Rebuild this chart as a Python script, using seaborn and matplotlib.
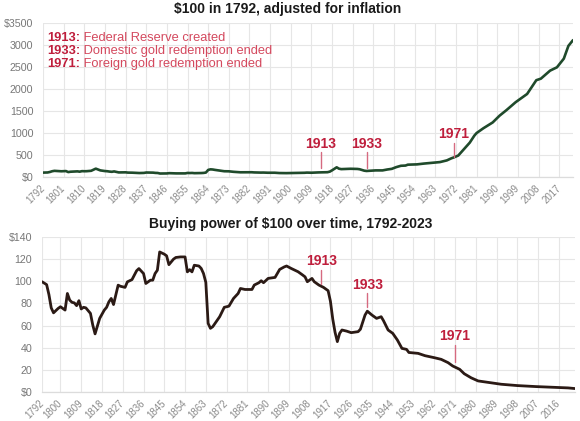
import matplotlib
matplotlib.use("Agg")
import matplotlib.pyplot as plt
from matplotlib.transforms import ScaledTranslation
import seaborn as sns
import pandas as pd

# ---------------- data ----------------
top_years = [1792, 1794, 1795, 1796, 1797, 1799, 1800, 1802, 1803, 1804, 1805, 1806,
             1807, 1808, 1809, 1810, 1811, 1813, 1814, 1815, 1817, 1819, 1820, 1821,
             1822, 1823, 1825, 1826, 1828, 1829, 1831, 1833, 1834, 1836, 1837, 1839,
             1840, 1841, 1842, 1843, 1845, 1846, 1847, 1849, 1850, 1852, 1854, 1855,
             1856, 1857, 1858, 1860, 1861, 1862, 1863, 1864, 1865, 1866, 1867, 1869,
             1871, 1873, 1875, 1877, 1878, 1880, 1883, 1884, 1886, 1887, 1888, 1890,
             1893, 1895, 1897, 1898, 1900, 1903, 1905, 1906, 1907, 1909, 1910, 1912,
             1914, 1916, 1917, 1918, 1919, 1920, 1921, 1922, 1924, 1926, 1929, 1930,
             1932, 1933, 1935, 1937, 1940, 1942, 1944, 1946, 1948, 1950, 1951, 1955,
             1958, 1962, 1965, 1968, 1970, 1971, 1973, 1975, 1978, 1980, 1981, 1984,
             1988, 1991, 1994, 1998, 2003, 2007, 2009, 2013, 2016, 2019, 2021, 2023]
top_values = [100, 103, 114, 131, 140, 132, 130, 135, 112, 120, 123, 124,
              128, 121, 133, 131, 132, 141, 165, 190, 150, 135, 131, 123,
              118, 127, 104, 105, 106, 100, 98, 91, 90, 93, 102, 99,
              99, 93, 91, 79, 80, 81, 87, 83, 82, 82, 82, 92,
              90, 92, 87, 88, 90, 93, 101, 161, 174, 170, 161, 147,
              131, 129, 118, 112, 107, 108, 108, 104, 101, 100, 101, 97,
              97, 90, 88, 88, 90, 92, 95, 96, 100, 97, 100, 104,
              106, 109, 122, 152, 185, 220, 189, 179, 182, 187, 183, 176,
              144, 137, 144, 150, 150, 170, 185, 225, 255, 260, 280, 287,
              305, 323, 339, 377, 425, 444, 488, 606, 781, 940, 1000, 1110,
              1240, 1394, 1520, 1700, 1887, 2200, 2235, 2417, 2493, 2690, 2980, 3110]

bottom_years = [1792, 1794, 1795, 1796, 1797, 1799, 1800, 1802, 1803, 1804, 1805, 1806,
                1807, 1808, 1809, 1810, 1811, 1813, 1814, 1815, 1817, 1819, 1820, 1821,
                1822, 1823, 1825, 1826, 1828, 1829, 1831, 1833, 1834, 1836, 1837, 1839,
                1840, 1841, 1842, 1843, 1845, 1846, 1847, 1849, 1850, 1852, 1854, 1855,
                1856, 1857, 1858, 1860, 1861, 1862, 1863, 1864, 1865, 1866, 1867, 1869,
                1871, 1873, 1875, 1877, 1878, 1880, 1883, 1884, 1886, 1887, 1888, 1890,
                1893, 1895, 1897, 1898, 1900, 1903, 1905, 1906, 1907, 1909, 1910, 1912,
                1914, 1916, 1917, 1918, 1919, 1920, 1921, 1922, 1924, 1926, 1929, 1930,
                1932, 1933, 1935, 1937, 1939, 1940, 1942, 1944, 1946, 1948, 1950, 1951,
                1955, 1958, 1962, 1965, 1968, 1970, 1971, 1973, 1975, 1978, 1981, 1986,
                1991, 1998, 2006, 2013, 2020, 2023]
bottom_values = [99.6, 97, 88, 76, 71.5, 75.5, 77, 74, 89, 83, 81, 80.5,
                 78, 82.5, 75, 76.5, 76, 71, 60.5, 52.5, 66.5, 74, 76.5, 81.5,
                 84.5, 79, 96.5, 95.5, 94.5, 99.5, 101.5, 109.5, 111.5, 107, 98, 101,
                 101, 107, 110, 126.5, 124.5, 123, 115, 120, 121.5, 122, 122, 108.5,
                 110.5, 108.5, 114.5, 113.8, 111.6, 107, 99, 62, 57.5, 59, 62, 68,
                 76.5, 77.5, 84.5, 89, 93.5, 92.6, 92.6, 96.6, 98.7, 100.5, 98.7, 102.6,
                 103.5, 110.7, 113, 113.8, 111.6, 108.6, 105.6, 104, 99.6, 102.6, 99.6, 96.6,
                 94.5, 91.5, 82, 66, 54, 45.5, 53, 56, 55, 53.6, 54.5, 56.7,
                 69.5, 73, 69.5, 66.5, 68, 64.4, 56, 53, 47, 39.4, 38.5, 35.7,
                 34.9, 32.8, 31, 29.5, 26.5, 23.5, 22.5, 20.5, 16.5, 12.8, 10, 8.5,
                 7, 5.8, 4.9, 4.3, 3.7, 3.1]

top_xtick_years = [1792, 1801, 1810, 1819, 1828, 1837, 1846, 1855, 1864, 1873, 1882,
                   1891, 1900, 1909, 1918, 1927, 1936, 1945, 1954, 1963, 1972, 1981,
                   1990, 1999, 2008, 2017]
bottom_xtick_years = [1792, 1800, 1809, 1818, 1827, 1836, 1845, 1854, 1863, 1872, 1881,
                      1890, 1899, 1908, 1917, 1926, 1935, 1944, 1953, 1962, 1971, 1980,
                      1989, 1998, 2007, 2016]
top_yticks = [0, 500, 1000, 1500, 2000, 2500, 3000, 3500]
top_ytick_labels = ["$0", "500", "1000", "1500", "2000", "2500", "3000", "$3500"]
bottom_yticks = [0, 20, 40, 60, 80, 100, 120, 140]
bottom_ytick_labels = ["$0", "20", "40", "60", "80", "100", "120", "$140"]

event_labels = ["1913", "1933", "1971"]
event_years = [1913, 1933, 1971]
event_texts = ["Federal Reserve created", "Domestic gold redemption ended",
               "Foreign gold redemption ended"]

top_title = "$100 in 1792, adjusted for inflation"
bottom_title = "Buying power of $100 over time, 1792-2023"

# ---------------- style ----------------
sns.set_theme(style="whitegrid")
plt.rcParams["font.family"] = ["Liberation Sans", "DejaVu Sans"]

RED = "#bf1e3c"
RED_LIGHT = "#d4495e"
LINE_RED = "#d66a80"
GRID = "#e6e6e6"
YTICK = "#777777"
XTICK = "#8a8a8a"
FS = 10
FS_LEG = 9.3

fig = plt.figure(figsize=(5.8, 4.21), dpi=100)
fig.patch.set_facecolor("white")
ax1 = fig.add_axes([43 / 580, 1 - 177 / 421, 530 / 580, 154 / 421])
ax2 = fig.add_axes([42 / 580, 1 - 392 / 421, 533 / 580, 155 / 421])

df_top = pd.DataFrame({"year": top_years, "value": top_values})
df_bot = pd.DataFrame({"year": bottom_years, "value": bottom_values})

sns.lineplot(data=df_top, x="year", y="value", ax=ax1, color="#1f4a2b", lw=1.9)
sns.lineplot(data=df_bot, x="year", y="value", ax=ax2, color="#2b1a15", lw=2.0)

shift = ScaledTranslation(5 / 100, 0, fig.dpi_scale_trans)


def style_axis(ax, xt, yt, ytl, ymax):
    ax.set_xlim(1792, 2023)
    ax.set_ylim(0, ymax)
    ax.set_xticks(xt)
    ax.set_xticklabels([str(v) for v in xt], rotation=45, ha="right",
                       va="center", rotation_mode="anchor")
    for lab in ax.get_xticklabels():
        lab.set_transform(lab.get_transform() + shift)
    ax.set_yticks(yt)
    ax.set_yticklabels(ytl)
    ax.set_xlabel("")
    ax.set_ylabel("")
    ax.set_facecolor("white")
    ax.grid(True, color=GRID, lw=0.8)
    for s in ax.spines.values():
        s.set_visible(False)
    ax.spines["bottom"].set_visible(True)
    ax.spines["bottom"].set_color("#dcdcdc")
    ax.spines["bottom"].set_linewidth(0.9)
    ax.tick_params(axis="y", colors=YTICK, labelsize=7.7, length=0, pad=7)
    ax.tick_params(axis="x", colors=XTICK, labelsize=7.0, length=0, pad=7)


style_axis(ax1, top_xtick_years, top_yticks, top_ytick_labels, 3500)
style_axis(ax2, bottom_xtick_years, bottom_yticks, bottom_ytick_labels, 140)

fig.text(288 / 580, 1 - 9 / 421, top_title, ha="center", va="center",
         fontsize=FS, fontweight="bold", color="#1a1a1a")
fig.text(291 / 580, 1 - 224 / 421, bottom_title, ha="center", va="center",
         fontsize=FS, fontweight="bold", color="#1a1a1a")

# legend-like text block in top chart
line_y = [0.9026, 0.8182, 0.7338]
for lab, txt, yy in zip(event_labels, event_texts, line_y):
    t = ax1.text(0.008, yy, lab + ":", transform=ax1.transAxes, ha="left",
                 va="center", fontsize=FS_LEG, fontweight="bold", color=RED)
    ax1.annotate(" " + txt, xy=(1, 0), xycoords=t, ha="left", va="bottom",
                 fontsize=FS_LEG, color=RED_LIGHT)

# event markers: (label bottom, line top, line bottom) in data units
top_marks = [(590, 560, 210), (590, 560, 210), (815, 770, 460)]
bot_marks = [(112, 110.5, 98), (90.5, 89.5, 77), (44.5, 42.5, 27.5)]
for ax, marks in ((ax1, top_marks), (ax2, bot_marks)):
    for lab, yr, (ty, l1, l2) in zip(event_labels, event_years, marks):
        ax.text(yr, ty, lab, ha="center", va="bottom", fontsize=FS,
                fontweight="bold", color=RED)
        ax.plot([yr, yr], [l1, l2], color=LINE_RED, lw=1.0)

fig.savefig("out.png", dpi=100, facecolor="white")
